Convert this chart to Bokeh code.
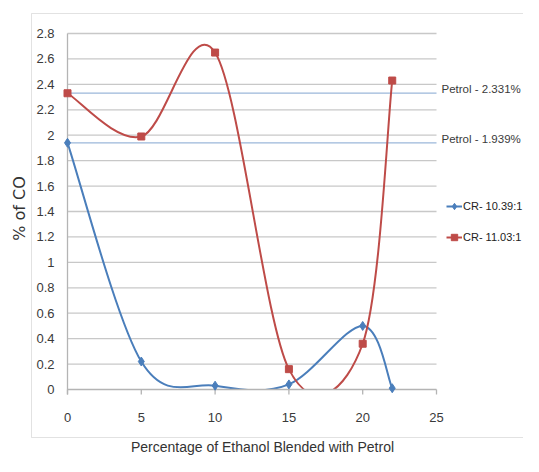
from bokeh.plotting import figure
from bokeh.models import (Label, Legend, LegendItem, BoxAnnotation,
                          ColumnDataSource, Range1d)
from bokeh.core.properties import value
from bokeh.embed import file_html
from bokeh.resources import INLINE

# ---------------- data ----------------
BLEND_PCT = [0, 5, 10, 15, 20, 22]
CO_CR_1039 = [1.94, 0.22, 0.03, 0.04, 0.50, 0.01]
CO_CR_1103 = [2.33, 1.99, 2.65, 0.16, 0.36, 2.43]
SERIES_NAMES = ["CR- 10.39:1", "CR- 11.03:1"]
PETROL_CO = [2.331, 1.939]
PETROL_LABELS = ["Petrol - 2.331%", "Petrol - 1.939%"]
X_TICKS = [0, 5, 10, 15, 20, 25]
X_TICK_LABELS = ["0", "5", "10", "15", "20", "25"]
Y_TICKS = [0, 0.2, 0.4, 0.6, 0.8, 1, 1.2, 1.4, 1.6, 1.8, 2, 2.2, 2.4, 2.6, 2.8]
Y_TICK_LABELS = ["0", "0.2", "0.4", "0.6", "0.8", "1", "1.2", "1.4", "1.6",
                 "1.8", "2", "2.2", "2.4", "2.6", "2.8"]
X_TITLE = "Percentage of Ethanol Blended with Petrol"
Y_TITLE = "% of CO"

# ---------------- styles / layout ----------------
BLUE = "#4a7ebb"
RED = "#be4b48"
GRID = "#c8c8c8"
AXIS = "#b4b4b4"
PETROL_LINE = "#9bb7da"
TXT = "#3a3a3a"
FONT = "Liberation Sans"

W, H = 523, 456
X_ORIGIN_PX = 67                 # canvas px where x = 0
PX_PER_X = 369 / 25.0
Y_ORIGIN_PX = 389                # canvas px (from top) where y = 0
PX_PER_Y = 356 / 2.8
TICK_PX = 5


def smooth_segments(xs, ys):
    """Cubic Bezier control points (Excel-like smoothed line) for a series."""
    n = len(xs)
    d = dict(x0=[], y0=[], x1=[], y1=[], cx0=[], cy0=[], cx1=[], cy1=[])
    for i in range(n - 1):
        ip, inx = max(i - 1, 0), min(i + 2, n - 1)
        d["x0"].append(xs[i]); d["y0"].append(ys[i])
        d["x1"].append(xs[i + 1]); d["y1"].append(ys[i + 1])
        d["cx0"].append(xs[i] + (xs[i + 1] - xs[ip]) / 6.0)
        d["cy0"].append(ys[i] + (ys[i + 1] - ys[ip]) / 6.0)
        d["cx1"].append(xs[i + 1] - (xs[inx] - xs[i]) / 6.0)
        d["cy1"].append(ys[i + 1] - (ys[inx] - ys[i]) / 6.0)
    return ColumnDataSource(d)


p = figure(width=W, height=H, output_backend="svg", toolbar_location=None,
           x_range=Range1d(-X_ORIGIN_PX / PX_PER_X, (W - X_ORIGIN_PX) / PX_PER_X),
           y_range=Range1d(-(H - Y_ORIGIN_PX) / PX_PER_Y, Y_ORIGIN_PX / PX_PER_Y),
           min_border=0, x_axis_location=None, y_axis_location=None)
p.outline_line_color = None
p.background_fill_color = "white"
p.border_fill_color = "white"
p.grid.visible = False

x_lo, x_hi = X_TICKS[0], X_TICKS[-1]
y_lo = Y_TICKS[0]
tick_dy = TICK_PX / PX_PER_Y

# outer chart border
p.add_layout(BoxAnnotation(left=31, right=W + 40, top=13, bottom=437,
                           left_units="canvas", right_units="canvas",
                           top_units="canvas", bottom_units="canvas",
                           fill_alpha=0, line_color="#a0a0a0", line_width=1))

# horizontal gridlines
p.segment(x0=[x_lo] * (len(Y_TICKS) - 1), x1=[x_hi] * (len(Y_TICKS) - 1),
          y0=Y_TICKS[1:], y1=Y_TICKS[1:], line_color=GRID, line_width=1.3)

# petrol reference lines
p.segment(x0=[x_lo] * len(PETROL_CO), x1=[x_hi] * len(PETROL_CO),
          y0=PETROL_CO, y1=PETROL_CO, line_color=PETROL_LINE, line_width=1.2)

# series curves
src_b = smooth_segments(BLEND_PCT, CO_CR_1039)
src_r = smooth_segments(BLEND_PCT, CO_CR_1103)
lb = p.bezier(x0="x0", y0="y0", x1="x1", y1="y1", cx0="cx0", cy0="cy0",
              cx1="cx1", cy1="cy1", source=src_b, line_color=BLUE, line_width=2)
lr = p.bezier(x0="x0", y0="y0", x1="x1", y1="y1", cx0="cx0", cy0="cy0",
              cx1="cx1", cy1="cy1", source=src_r, line_color=RED, line_width=2)

# mask: the plot area ends at y = 0 (curves are clipped there)
p.quad(left=[x_lo], right=[x_hi], bottom=[y_lo - 12 / PX_PER_Y], top=[y_lo],
       fill_color="white", line_color=None)

# axes lines and ticks
p.segment(x0=[x_lo], x1=[x_hi], y0=[y_lo], y1=[y_lo], line_color=AXIS, line_width=1.3)
p.segment(x0=[x_lo], x1=[x_lo], y0=[y_lo - tick_dy], y1=[Y_TICKS[-1]],
          line_color=AXIS, line_width=1.3)
p.segment(x0=X_TICKS, x1=X_TICKS, y0=[y_lo] * len(X_TICKS),
          y1=[y_lo - tick_dy] * len(X_TICKS), line_color=AXIS, line_width=1.3)

# markers
mb = p.scatter(BLEND_PCT, CO_CR_1039, marker="diamond", size=9,
               fill_color=BLUE, line_color=BLUE)
mr = p.scatter(BLEND_PCT, CO_CR_1103, marker="square", size=7,
               fill_color=RED, line_color=RED)

# tick labels
p.text(x=X_TICKS, y=[y_lo] * len(X_TICKS), text=X_TICK_LABELS, y_offset=28,
       text_align="center", text_baseline="middle", text_font=value(FONT),
       text_font_size="13px", text_color=TXT)
p.text(x=[x_lo] * len(Y_TICKS), y=Y_TICKS, text=Y_TICK_LABELS, x_offset=-13,
       text_align="right", text_baseline="middle", text_font=value(FONT),
       text_font_size="13px", text_color=TXT)

# petrol labels
for v, t in zip(PETROL_CO, PETROL_LABELS):
    p.add_layout(Label(x=x_hi, y=v, text=t, x_offset=5, y_offset=4,
                       text_baseline="middle", text_align="left",
                       text_font=FONT, text_font_size="11.5px", text_color=TXT))

# titles
p.add_layout(Label(x=262, y=446, x_units="canvas", y_units="canvas", text=X_TITLE,
                   text_align="center", text_baseline="middle",
                   text_font=FONT, text_font_size="14px", text_color="#333333"))
p.add_layout(Label(x=19, y=208, x_units="canvas", y_units="canvas", text=Y_TITLE,
                   angle=90, angle_units="deg",
                   text_align="center", text_baseline="middle",
                   text_font="DejaVu Sans", text_font_size="16px",
                   text_color="#333333"))

# legend
legend = Legend(items=[LegendItem(label=SERIES_NAMES[0], renderers=[lb, mb]),
                       LegendItem(label=SERIES_NAMES[1], renderers=[lr, mr])],
                location=(446, 209), orientation="vertical",
                background_fill_alpha=0, border_line_color=None,
                padding=0, margin=0, spacing=11, glyph_width=16, glyph_height=20,
                label_standoff=1, label_text_font=FONT,
                label_text_font_size="11px", label_text_color="#222222")
p.add_layout(legend)

open("out.html", "w").write(file_html(p, INLINE))
